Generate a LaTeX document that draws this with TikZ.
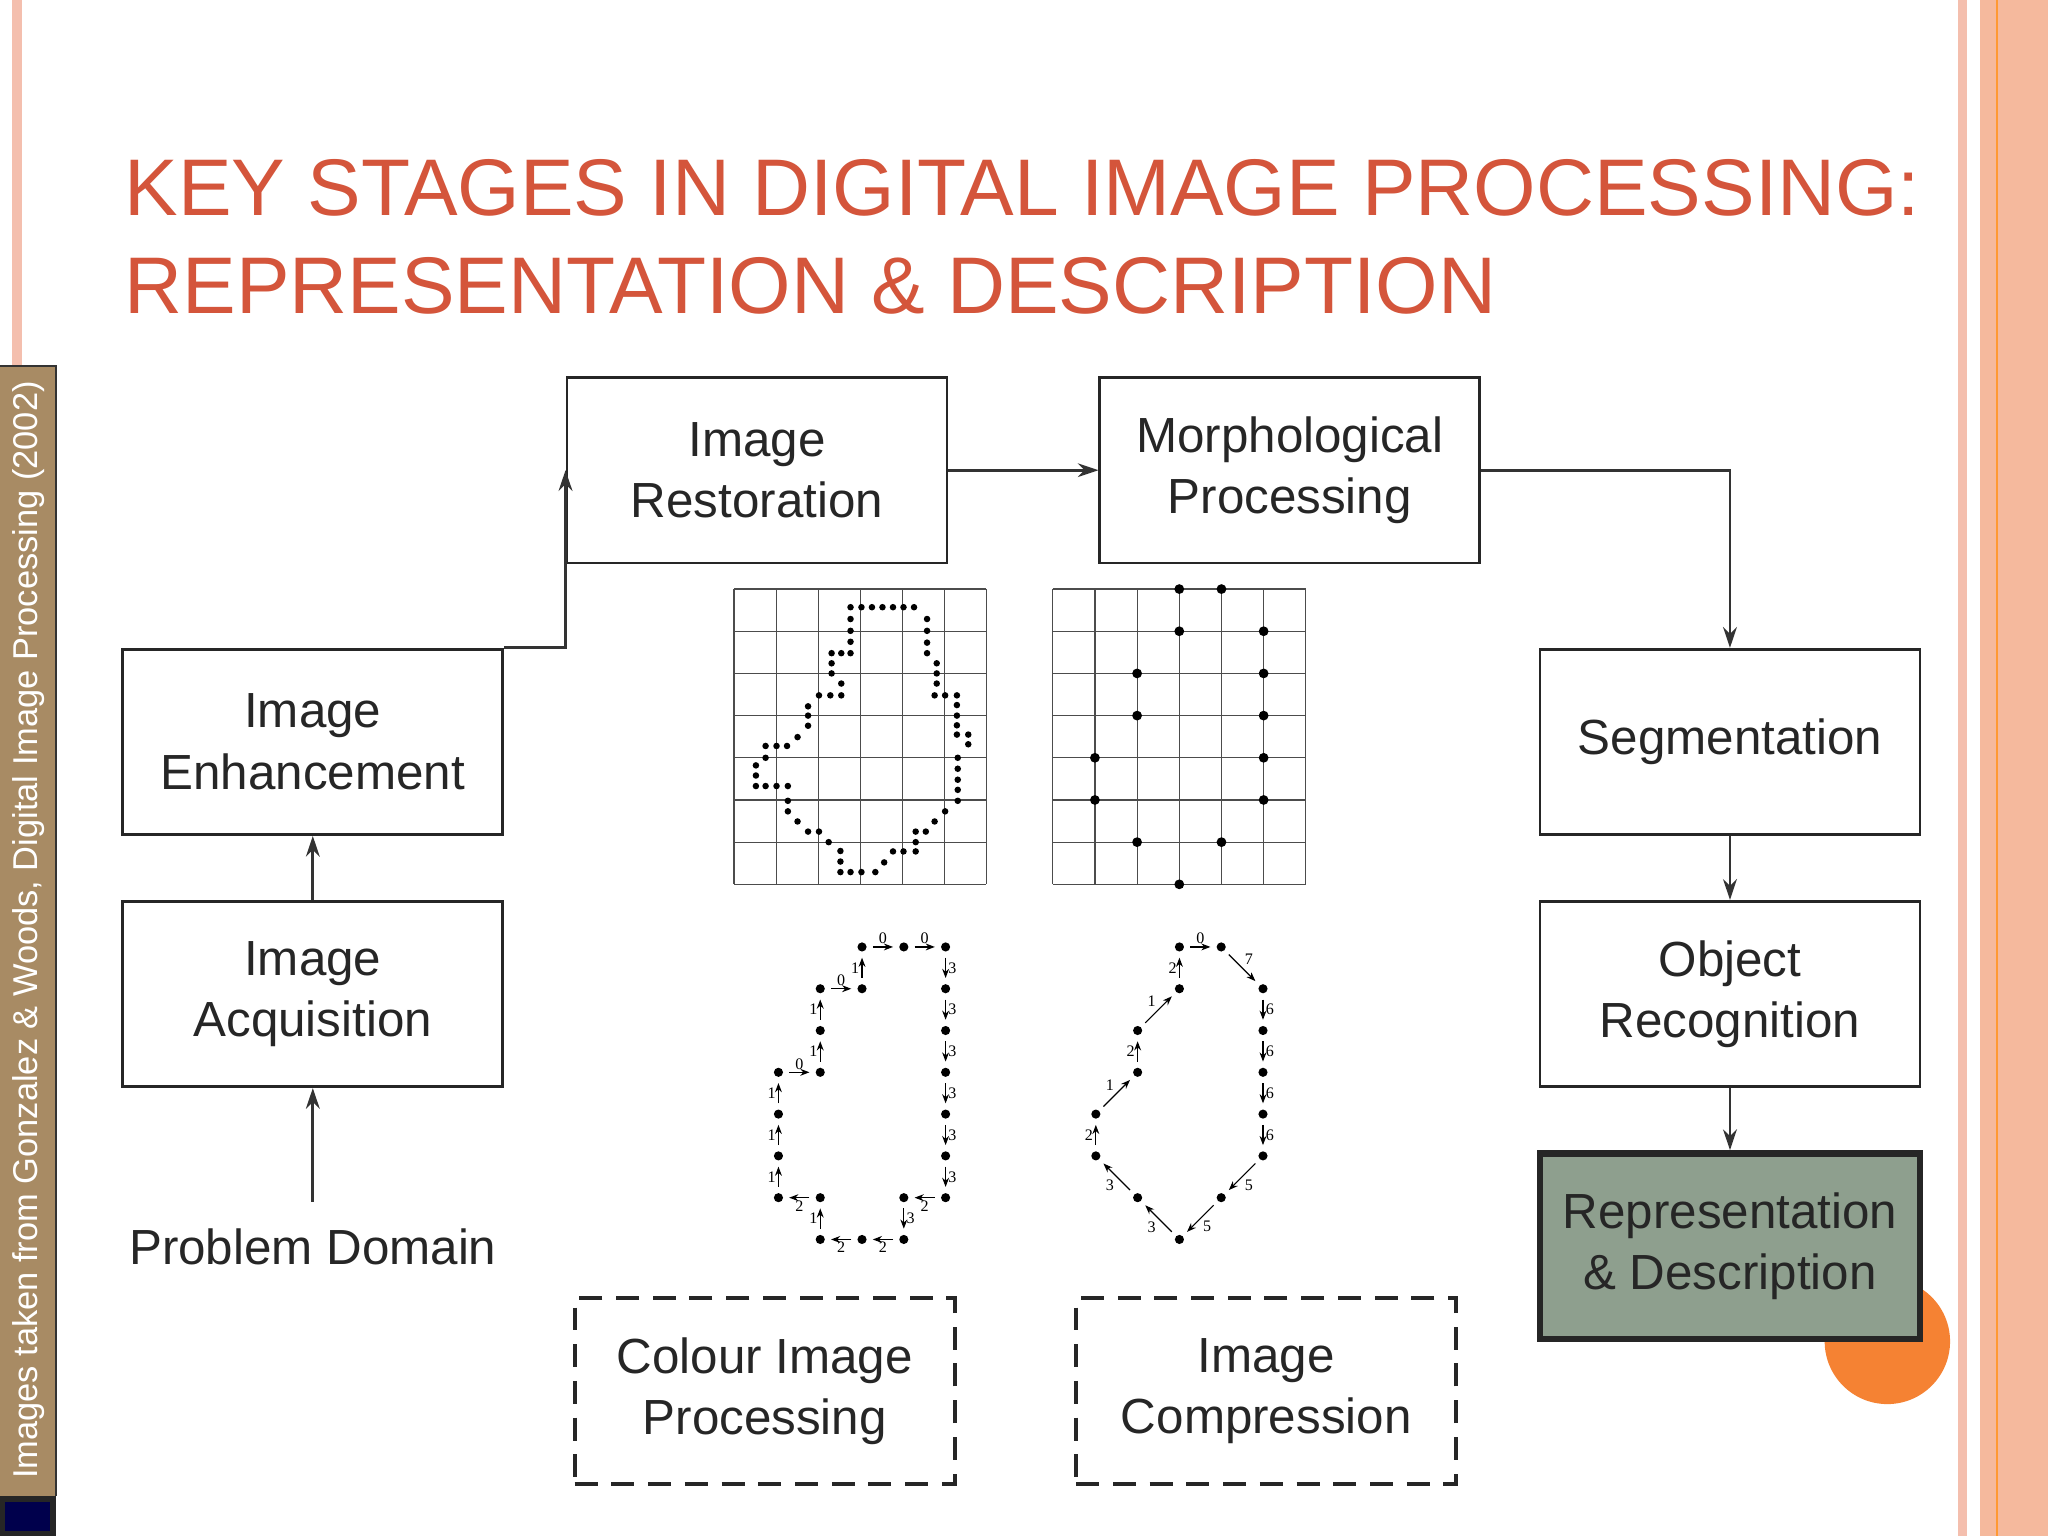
\documentclass[tikz,border=0pt]{standalone}
\usepackage{fontspec}
\setmainfont{Liberation Sans}
\newfontfamily\serifnum{Liberation Serif}
\usetikzlibrary{arrows.meta}
\definecolor{titlered}{HTML}{D4553B}
\definecolor{tan}{HTML}{A88B64}
\definecolor{repfill}{HTML}{8E9F8E}
\definecolor{stripe}{HTML}{F4BFAE}
\definecolor{orangeball}{HTML}{F58233}
\tikzset{
 stagebox/.style={draw=black!85, line width=1.2pt, minimum width=5.82cm, minimum height=2.84cm, align=center, font=\fontsize{21.5}{26.7}\selectfont, text=black!85},
 dashbox/.style={stagebox, line width=1.8pt, dash pattern=on 10pt off 6pt},
 flow/.style={draw=black!80, line width=1.2pt, -{Stealth[length=9pt,width=6pt]}},
 rdot/.style={circle, fill=black, inner sep=0pt, minimum size=0.15cm},
 cdot/.style={circle, fill=black, inner sep=0pt, minimum size=0.14cm},
 carr/.style={line width=0.5pt, shorten >=2.5pt, shorten <=2.5pt, -{Stealth[length=4pt,width=3pt]}},
 lab/.style={font=\serifnum\fontsize{7}{8}\selectfont, inner sep=1pt},
 gridline/.style={black!70, line width=0.5pt},
}
\begin{document}
\begin{tikzpicture}[x=0.02cm,y=-0.02cm]
\useasboundingbox (0,0) rectangle (1568,1176);
\fill[white] (0,0) rectangle (1568,1176);
% decorations
\fill[stripe] (9,0) rectangle (17,280);
\fill[stripe] (1499,0) rectangle (1506,1176);
\fill[stripe!90!orange] (1516,0) rectangle (1568,1176);
\fill[orange!80] (1528,0) rectangle (1530,1176);
\fill[tan] (0,280) rectangle (43,1145);
\draw[black!80, line width=1pt] (0,280) -- (43,280) -- (43,1145);
\node[rotate=90, text=white, font=\fontsize{15}{18}\selectfont] (side) at (22,712) {Images taken from Gonzalez \& Woods, Digital Image Processing (2002)};
\fill[black!85] (0,1145) rectangle (43,1176);
\fill[blue!30!black] (4,1150) rectangle (38,1172);
% title
\node[anchor=base west, text=titlered, font=\fontsize{35}{42}\selectfont, inner sep=0pt] (t1) at (95,165) {KEY STAGES IN DIGITAL IMAGE PROCESSING:};
\node[anchor=base west, text=titlered, font=\fontsize{35}{42}\selectfont, inner sep=0pt] (t2) at (95,240) {REPRESENTATION \& DESCRIPTION};
% boxes
\node[stagebox] (rest) at (579.5,360) {Image\\Restoration};
\node[stagebox] (morph) at (987.5,360) {Morphological\\Processing};
\node[stagebox] (enh) at (239.5,568) {Image\\Enhancement};
\node[stagebox] (acq) at (239.5,761) {Image\\Acquisition};
\node[stagebox] (seg) at (1324.5,568) {Segmentation};
\node[stagebox] (obj) at (1324.5,761) {Object\\Recognition};
\fill[orangeball] (1445,1027) circle (48);
\node[stagebox, fill=repfill, draw=black!85, line width=2.8pt] (rep) at (1324.5,954) {Representation\\\& Description};
\node[dashbox] (col) at (585.5,1065) {Colour Image\\Processing};
\node[dashbox] (comp) at (969.5,1065) {Image\\Compression};
\node[font=\fontsize{21.5}{26.7}\selectfont, text=black!85] (pd) at (239.5,955) {Problem Domain};
% connectors
\coordinate (pdt) at (239.5,920);
\draw[flow] (pdt) -- (acq.south);
\draw[flow] (acq.north) -- (enh.south);
\draw[flow] (enh.north east) -| (rest.west);
\draw[flow] (rest.east) -- (morph.west);
\draw[flow] (morph.east) -| (seg.north);
\draw[flow] (seg.south) -- (obj.north);
\draw[flow] (obj.south) -- (rep.north);
% left grid
\begin{scope}[shift={(562,451)}, x=0.644cm, y=-0.646cm]
\foreach \k in {0,...,6} \draw[gridline] (\k,0) -- (\k,7);
\foreach \k in {0,...,7} \draw[gridline] (0,\k) -- (6,\k);
\foreach \u/\v in {2.77/0.43,3.03/0.43,3.28/0.43,3.53/0.43,3.78/0.43,4.03/0.43,4.28/0.43,
 2.77/0.71,2.77/0.99,2.77/1.25,2.77/1.52,2.32/1.52,2.55/1.52,2.32/1.76,2.32/2.0,
 2.55/2.24,2.55/2.52,2.02/2.52,2.29/2.52,1.76/2.78,1.76/3.0,1.76/3.24,1.51/3.51,
 0.75/3.72,1.01/3.72,1.26/3.72,0.75/4.0,0.52/4.18,0.52/4.42,0.52/4.67,0.75/4.67,1.01/4.67,1.28/4.67,
 1.28/5.02,1.28/5.27,1.51/5.51,1.76/5.75,2.02/5.75,2.25/6.0,2.53/6.21,2.53/6.46,2.53/6.71,
 2.77/6.71,3.03/6.71,3.36/6.71,3.57/6.48,3.78/6.22,4.03/6.22,4.32/6.22,4.32/6.0,4.32/5.75,4.56/5.75,
 4.77/5.51,5.02/5.27,5.32/5.02,5.32/4.76,5.32/4.52,5.32/4.26,5.32/4.0,5.57/3.68,5.57/3.45,
 5.3/3.45,5.3/3.23,5.3/3.0,5.3/2.75,5.3/2.52,4.77/2.52,5.02/2.52,4.82/2.24,4.82/2.0,4.82/1.76,
 4.59/1.52,4.59/1.27,4.59/0.99,4.59/0.71}
 \fill (\u,\v) circle (0.05cm);
\end{scope}
% right grid
\begin{scope}[shift={(806,451)}, x=0.646cm, y=-0.646cm]
\foreach \k in {0,...,6} \draw[gridline] (\k,0) -- (\k,7);
\foreach \k in {0,...,7} \draw[gridline] (0,\k) -- (6,\k);
\foreach \u/\v in {3/0,4/0,3/1,5/1,2/2,5/2,2/3,5/3,1/4,5/4,1/5,5/5,2/6,4/6,3/7}
 \node[rdot] at (\u,\v) {};
\end{scope}
% left chain code
\begin{scope}[shift={(596,725)}, x=0.64cm, y=-0.64cm]
\foreach \i/\j in {0/3,0/4,0/5,0/6,1/1,1/2,1/3,1/6,1/7,2/0,2/1,2/7,3/0,3/6,3/7,4/0,4/1,4/2,4/3,4/4,4/5,4/6}
 \node[cdot] (L\i-\j) at (\i,\j) {};
\foreach \a/\b/\c/\p in {0-6/0-5/1/left,0-5/0-4/1/left,0-4/0-3/1/left,0-3/1-3/0/above,1-3/1-2/1/left,1-2/1-1/1/left,
 1-1/2-1/0/above,2-1/2-0/1/left,2-0/3-0/0/above,3-0/4-0/0/above,
 4-0/4-1/3/right,4-1/4-2/3/right,4-2/4-3/3/right,4-3/4-4/3/right,4-4/4-5/3/right,4-5/4-6/3/right,
 4-6/3-6/2/below,3-6/3-7/3/right,3-7/2-7/2/below,2-7/1-7/2/below,1-7/1-6/1/left,1-6/0-6/2/below}
 \draw[carr] (L\a) -- node[lab,\p]{\c} (L\b);
\end{scope}
% right chain code
\begin{scope}[shift={(839,725)}, x=0.64cm, y=-0.64cm]
\foreach \i/\j in {2/0,3/0,4/1,4/2,4/3,4/4,4/5,3/6,2/7,1/6,0/5,0/4,1/3,1/2,2/1}
 \node[cdot] (R\i-\j) at (\i,\j) {};
\foreach \a/\b/\c/\p in {2-0/3-0/0/above,3-0/4-1/7/above right,4-1/4-2/6/right,4-2/4-3/6/right,4-3/4-4/6/right,4-4/4-5/6/right,
 4-5/3-6/5/below right,3-6/2-7/5/below right,2-7/1-6/3/below left,1-6/0-5/3/below left,0-5/0-4/2/left,
 0-4/1-3/1/above left,1-3/1-2/2/left,1-2/2-1/1/above left,2-1/2-0/2/left}
 \draw[carr] (R\a) -- node[lab,\p]{\c} (R\b);
\end{scope}
\end{tikzpicture}
\end{document}
